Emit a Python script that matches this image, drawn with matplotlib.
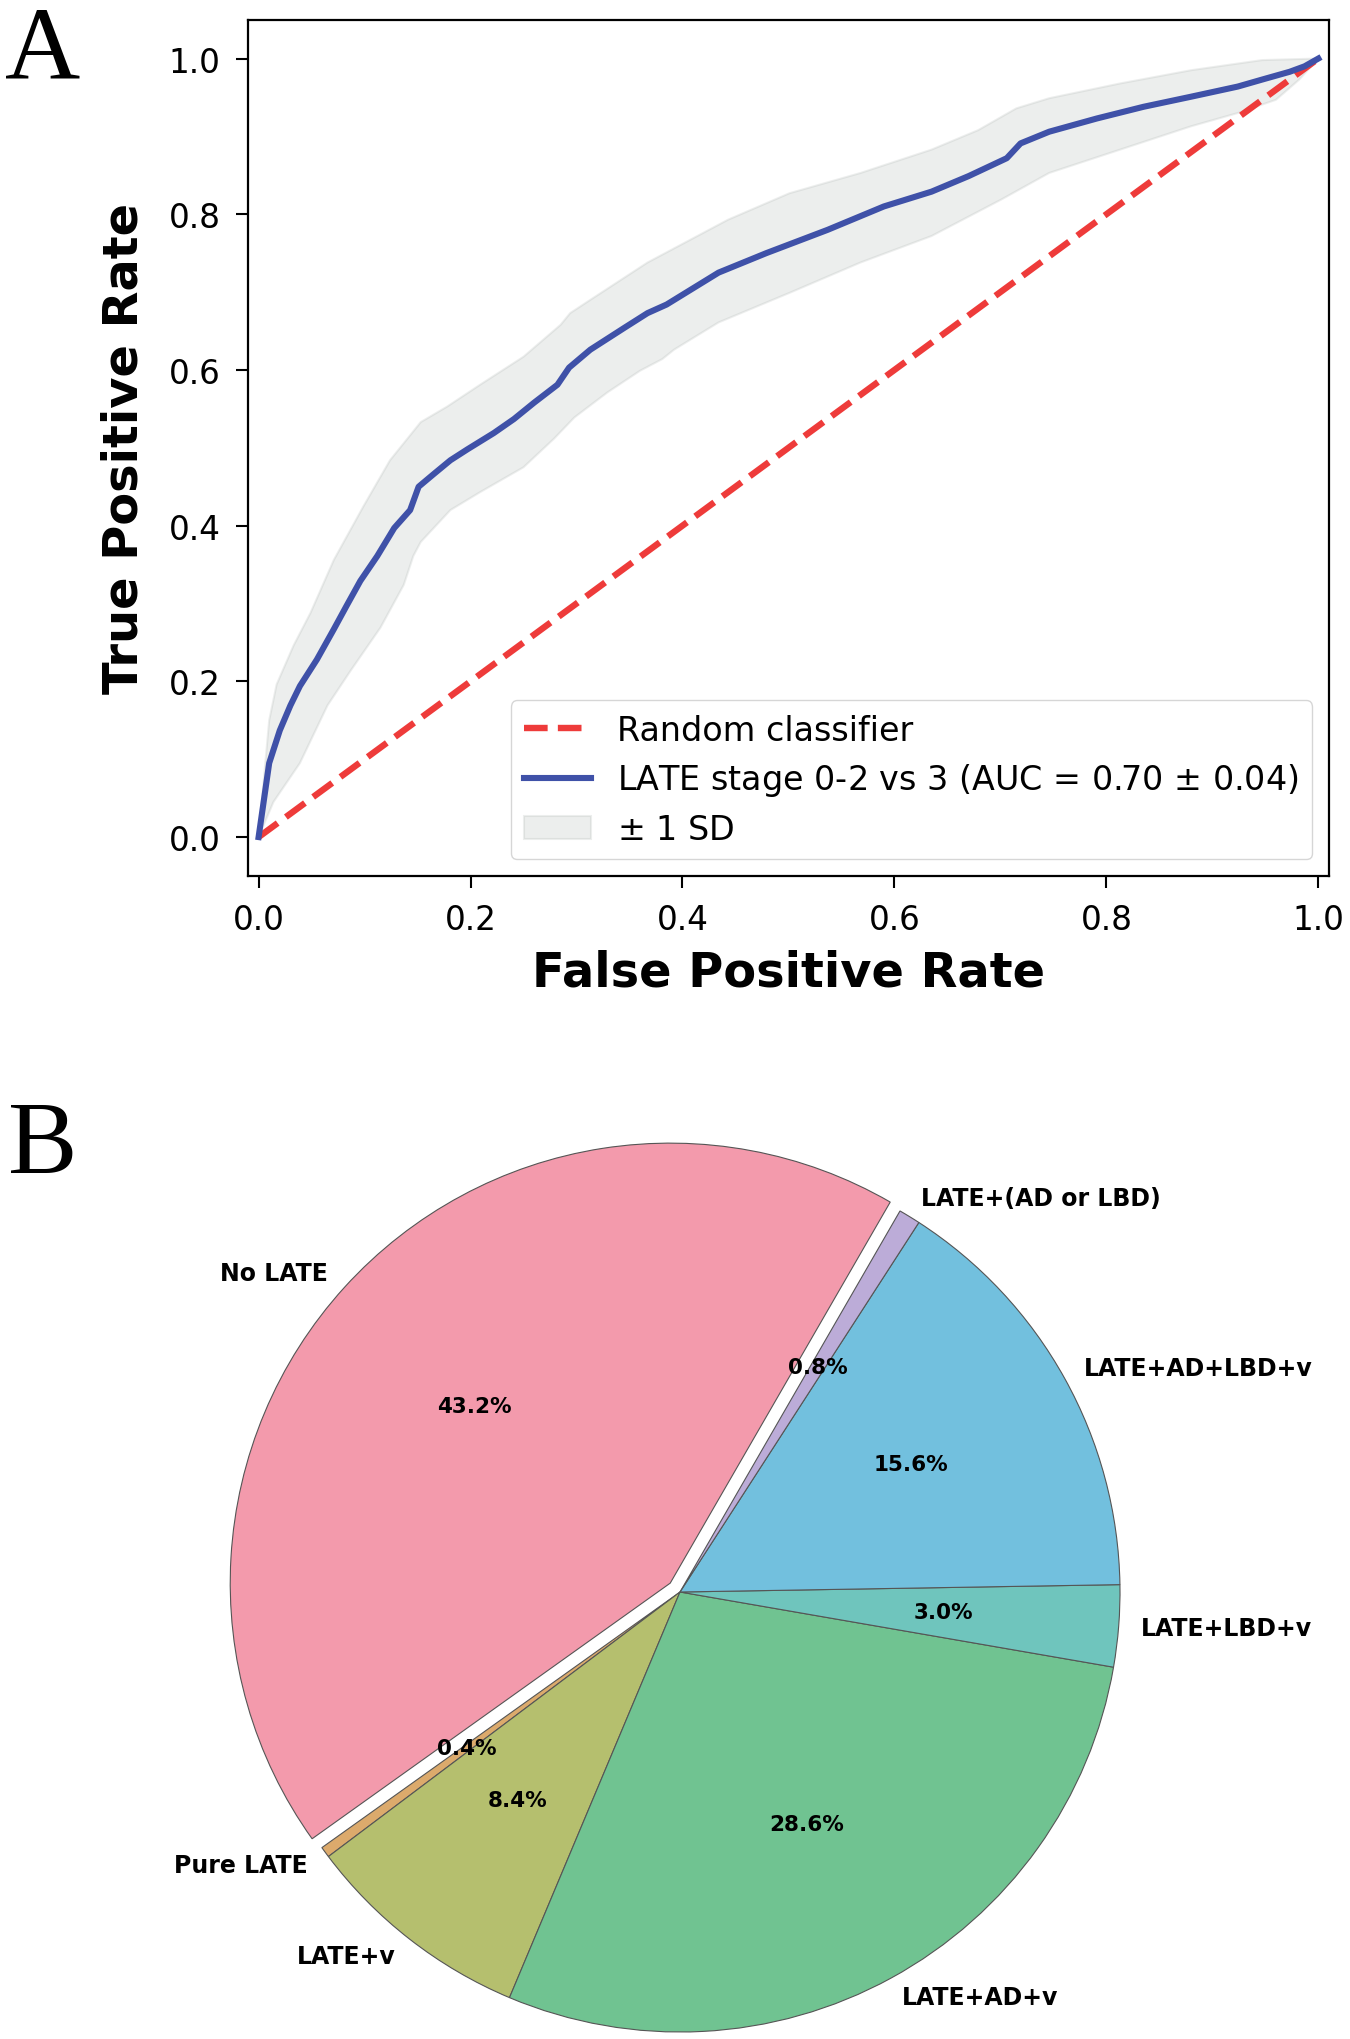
import numpy as np
import matplotlib
matplotlib.use("Agg")
import matplotlib.pyplot as plt

# ---- panel A: mean ROC curve and +/- 1 SD band ----
mean_fpr = [0.000, 0.010, 0.020, 0.030, 0.039, 0.055, 0.071, 0.083, 0.096, 0.112,
            0.128, 0.143, 0.151, 0.165, 0.181, 0.197, 0.222, 0.241, 0.260, 0.282,
            0.293, 0.313, 0.345, 0.367, 0.385, 0.434, 0.479, 0.537, 0.590, 0.635,
            0.670, 0.706, 0.719, 0.746, 0.791, 0.835, 0.880, 0.924, 0.947, 0.973,
            0.987, 1.000]
mean_tpr = [0.000, 0.095, 0.137, 0.169, 0.194, 0.228, 0.267, 0.297, 0.329, 0.361,
            0.397, 0.420, 0.450, 0.466, 0.484, 0.498, 0.519, 0.537, 0.558, 0.581,
            0.603, 0.626, 0.654, 0.673, 0.684, 0.725, 0.750, 0.780, 0.810, 0.829,
            0.849, 0.872, 0.891, 0.906, 0.923, 0.938, 0.951, 0.964, 0.973, 0.983,
            0.990, 1.000]

upper_fpr = [0.000, 0.010, 0.017, 0.033, 0.049, 0.071, 0.099, 0.124, 0.153, 0.178,
             0.209, 0.250, 0.285, 0.294, 0.313, 0.367, 0.443, 0.501, 0.568, 0.635,
             0.679, 0.715, 0.746, 0.813, 0.880, 0.947, 1.000]
upper_tpr = [0.000, 0.150, 0.196, 0.246, 0.288, 0.356, 0.425, 0.484, 0.533, 0.553,
             0.581, 0.617, 0.658, 0.673, 0.690, 0.738, 0.793, 0.827, 0.853, 0.883,
             0.908, 0.936, 0.949, 0.968, 0.985, 0.998, 1.000]

lower_fpr = [0.000, 0.014, 0.039, 0.065, 0.087, 0.115, 0.137, 0.146, 0.153, 0.181,
             0.209, 0.250, 0.279, 0.298, 0.329, 0.360, 0.381, 0.392, 0.434, 0.501,
             0.568, 0.635, 0.701, 0.746, 0.813, 0.880, 0.924, 0.960, 0.982, 1.000]
lower_tpr = [0.000, 0.045, 0.095, 0.169, 0.214, 0.269, 0.324, 0.361, 0.379, 0.420,
             0.443, 0.475, 0.512, 0.539, 0.571, 0.599, 0.614, 0.626, 0.661, 0.699,
             0.738, 0.772, 0.819, 0.853, 0.883, 0.913, 0.930, 0.947, 0.973, 1.000]

chance = [0, 1]
ticks = [0.0, 0.2, 0.4, 0.6, 0.8, 1.0]

# ---- panel B: case counts per group (n = 500) ----
groups = ["No LATE", "Pure LATE", "LATE+v", "LATE+AD+v", "LATE+LBD+v",
          "LATE+AD+LBD+v", "LATE+(AD or LBD)"]
counts = [216, 2, 42, 143, 15, 78, 4]
explode = [0.03, 0, 0, 0, 0, 0, 0]
pie_colors = ["#f39aac", "#dcaa6c", "#b5bf6e", "#70c391", "#6fc5bd", "#72c0de", "#bcacd8"]

plt.rcParams['font.family'] = ['DejaVu Sans']

fig = plt.figure(figsize=(13.5, 20.4), dpi=100)

# ---------------- A ----------------
ax = fig.add_axes([0.1837, 0.5701, 0.8007, 0.4198])
ax.plot(chance, chance, linestyle='--', color='#ee3b3a', lw=4.6, label='Random classifier')
ax.plot(mean_fpr, mean_tpr, color='#3f51a8', lw=4.4,
        label='LATE stage 0-2 vs 3 (AUC = 0.70 $\\pm$ 0.04)')
band_x = upper_fpr + lower_fpr[::-1]
band_y = upper_tpr + lower_tpr[::-1]
ax.fill(band_x, band_y, color='#9aa39f', alpha=0.18, lw=1.5, zorder=1, label='$\\pm$ 1 SD')

ax.set_xlim(-0.01, 1.01)
ax.set_ylim(-0.05, 1.05)
ax.set_xticks(ticks)
ax.set_yticks(ticks)
ax.tick_params(labelsize=23.5, length=8.6, width=1.5, pad=11)
for s in ax.spines.values():
    s.set_linewidth(1.6)
ax.set_xlabel('False Positive Rate', fontsize=34.5, fontweight='bold', labelpad=9)
ax.set_ylabel('True Positive Rate', fontsize=34.5, fontweight='bold', labelpad=15)
ax.legend(loc='lower right', fontsize=24, labelspacing=0.44)

# ---------------- B ----------------
axp = fig.add_axes([100 / 1350, (2040 - 1593 - 580) / 2040, 1160 / 1350, 1160 / 2040])
wedges, texts, autotexts = axp.pie(
    counts, labels=groups, colors=pie_colors, explode=explode, startangle=60,
    autopct='%1.1f%%', pctdistance=0.6, labeldistance=1.05,
    wedgeprops=dict(edgecolor='#555555', linewidth=0.8),
    textprops=dict(fontsize=17, fontweight='bold'))
for t in autotexts:
    t.set_fontsize(15.5)
axp.set_xlim(-580 / 440, 580 / 440)
axp.set_ylim(-580 / 440, 580 / 440)

fig.text(0.004, 1 - 78 / 2040, 'A', fontsize=75, family=['Liberation Serif', 'DejaVu Serif'],
         va='baseline', ha='left')
fig.text(0.006, 1 - 1173 / 2040, 'B', fontsize=75, family=['Liberation Serif', 'DejaVu Serif'],
         va='baseline', ha='left')

fig.savefig('out.png', dpi=100)
